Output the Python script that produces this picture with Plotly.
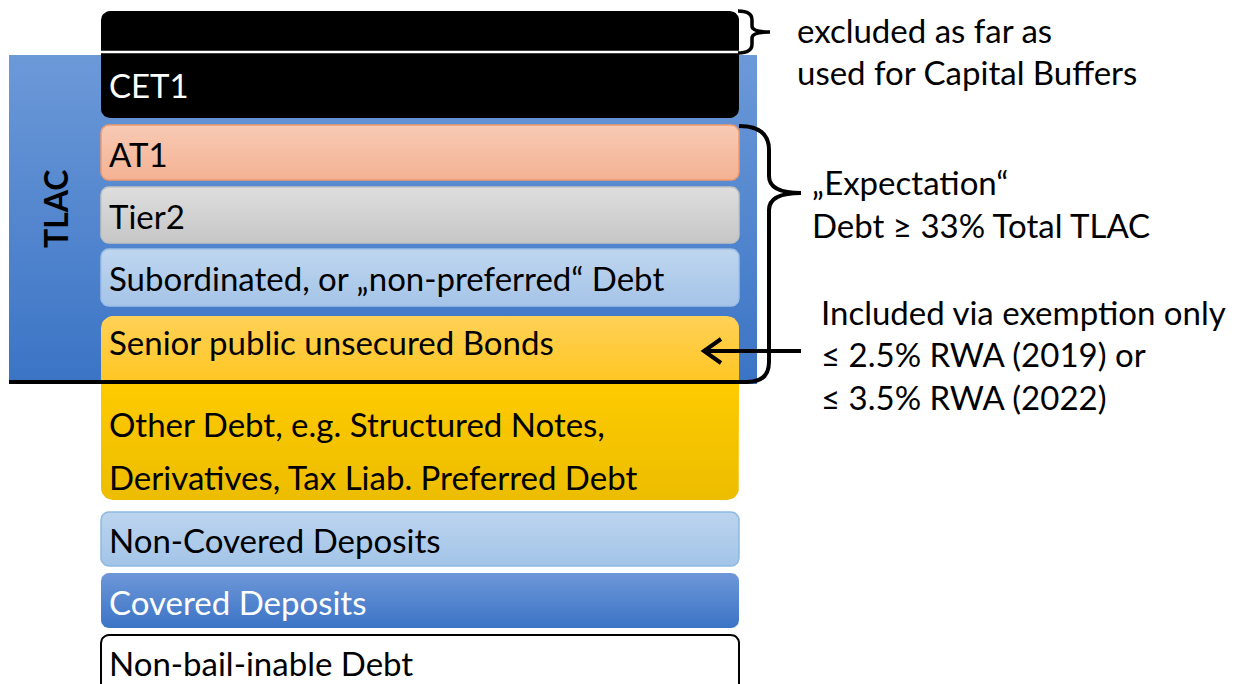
"""
TLAC liability stack diagram using Plotly
"""
import numpy as np
import plotly.graph_objects as go

W, H = 1247, 684
FONT = 'Lato'

# layer stack (top, bottom in page pixels)
layer_names = ['Buffers', 'CET1', 'AT1', 'Tier2',
               'Subordinated, or „non-preferred“ Debt',
               'Senior public unsecured Bonds',
               'Other Debt, e.g. Structured Notes,',
               'Non-Covered Deposits', 'Covered Deposits',
               'Non-bail-inable Debt']
layer_top = [11, 53, 125, 187, 249, 316, 383, 512, 573, 635]
layer_bottom = [53, 118, 180, 243, 306, 383, 500, 566, 628, 700]
label_y = [None, 85, 154, 216, 278, 342, 424, 540, 602, 663]

other_debt_second_line = 'Derivatives, Tax Liab. Preferred Debt'

tlac_top, tlac_bottom = 55, 384

note_lines = [
    ('excluded as far as', 795, 30),
    ('used for Capital Buffers', 795, 72),
    ('„Expectation“', 810, 182),
    ('Debt ≥ 33% Total TLAC', 810, 225),
    ('Included via exemption only', 819, 312),
    ('≤ 2.5% RWA (2019) or', 819, 354),
    ('≤ 3.5% RWA (2022)', 819, 397),
]


def rrect(x0, x1, y0, y1, rt=8, rb=8, n=8):
    """Closed outline of a rectangle with rounded top / bottom corners"""
    xs, ys = [], []
    corners = [
        (x1 - rt, y0 + rt, rt, -90, 0),
        (x1 - rb, y1 - rb, rb, 0, 90),
        (x0 + rb, y1 - rb, rb, 90, 180),
        (x0 + rt, y0 + rt, rt, 180, 270),
    ]
    for cx, cy, r, a0, a1 in corners:
        ang = np.radians(np.linspace(a0, a1, n))
        xs += list(cx + r * np.cos(ang))
        ys += list(cy + r * np.sin(ang))
    xs.append(xs[0])
    ys.append(ys[0])
    return xs, ys


def add_box(fig, x0, x1, y0, y1, c_top, c_bot, line_color=None, line_width=0, rt=8, rb=8):
    xs, ys = rrect(x0, x1, y0, y1, rt, rb)
    fig.add_trace(go.Scatter(
        x=xs, y=ys, mode='lines', fill='toself',
        line=dict(color=line_color or 'rgba(0,0,0,0)', width=line_width),
        fillgradient=dict(type='vertical', colorscale=[[0, c_top], [1, c_bot]],
                          start=y0, stop=y1),
        hoverinfo='skip', showlegend=False
    ))


fig = go.Figure()

# TLAC background
add_box(fig, 9, 757, tlac_top, tlac_bottom, '#6c99d8', '#3b74c5', rt=0, rb=0)

L, R = 101, 739
# black buffer + CET1
add_box(fig, L, R, layer_top[0], layer_bottom[1], '#000000', '#000000', rt=9, rb=9)
# AT1
add_box(fig, L, R, layer_top[2], layer_bottom[2], '#f8cab4', '#f4b293', '#ef9b6c', 1.5)
# Tier2
add_box(fig, L, R, layer_top[3], layer_bottom[3], '#dedede', '#c6c6c6', '#c2c2c2', 1.5)
# Subordinated
add_box(fig, L, R, layer_top[4], layer_bottom[4], '#bfd6ef', '#a5c4e8', '#9ec0e6', 1.5)
# Other debt (lower yellow)
add_box(fig, L, R, layer_top[6] - 4, layer_bottom[6], '#ffcb00', '#ecbd00', rt=0, rb=12)
# Senior bonds (upper yellow)
add_box(fig, L, R, layer_top[5], layer_bottom[5], '#ffd157', '#ffc622', rt=12, rb=0)
# Non-covered deposits
add_box(fig, L, R, layer_top[7], layer_bottom[7], '#bcd4ee', '#a3c4e8', '#8fb9e2', 1.5)
# Covered deposits
add_box(fig, L, R, layer_top[8], layer_bottom[8], '#6e97d8', '#3b74c6')
# Non-bail-inable
add_box(fig, L, R, layer_top[9], layer_bottom[9], '#ffffff', '#ffffff', '#000000', 2)

# layer labels
text_color = ['white', 'white', 'black', 'black', 'black', 'black', 'black',
              'black', 'white', 'black']
for i, name in enumerate(layer_names):
    if label_y[i] is None:
        continue
    fig.add_annotation(x=107, y=label_y[i], text=name, showarrow=False, xanchor='left',
                       yanchor='middle', font=dict(family=FONT, size=33, color=text_color[i]))
fig.add_annotation(x=107, y=477, text=other_debt_second_line, showarrow=False,
                   xanchor='left', yanchor='middle',
                   font=dict(family=FONT, size=33, color='black'))

# TLAC label
fig.add_annotation(x=55, y=209, text='<b>TLAC</b>', showarrow=False, textangle=-90,
                   font=dict(family=FONT, size=32, color='black'))

# right-hand notes
for txt, x, y in note_lines:
    fig.add_annotation(x=x, y=y, text=txt, showarrow=False, xanchor='left',
                       yanchor='middle', font=dict(family=FONT, size=33, color='black'))

shapes = [
    # white split between buffer part and CET1
    dict(type='line', x0=L, x1=742, y0=52, y1=52, line=dict(color='white', width=2.5)),
    # small brace
    dict(type='path', path='M 738 11 Q 752 11 752 20 L 752 26 Q 752 32 770 32 '
                           'Q 752 32 752 38 L 752 44 Q 752 53 738 53',
         line=dict(color='black', width=3.5)),
    # big brace + TLAC bottom line
    dict(type='path', path='M 739 126 Q 769 126 769 150 L 769 176 Q 769 193 801 193 '
                           'Q 769 193 769 210 L 769 362 Q 769 382 747 382 L 9 382',
         line=dict(color='black', width=4)),
    # arrow
    dict(type='path', path='M 801 351 L 704 351 M 721 339 L 704 351 L 721 363',
         line=dict(color='black', width=4)),
]
for s in shapes:
    s.update(xref='x', yref='y')

fig.update_layout(
    width=W, height=H,
    margin=dict(t=0, b=0, l=0, r=0),
    paper_bgcolor='white', plot_bgcolor='white',
    shapes=shapes,
    xaxis=dict(range=[0, W], visible=False, fixedrange=True),
    yaxis=dict(range=[H, 0], visible=False, fixedrange=True),
    showlegend=False,
)

fig.write_html("out.html", config={'displayModeBar': False},
               post_script="document.body.style.margin='0';")
